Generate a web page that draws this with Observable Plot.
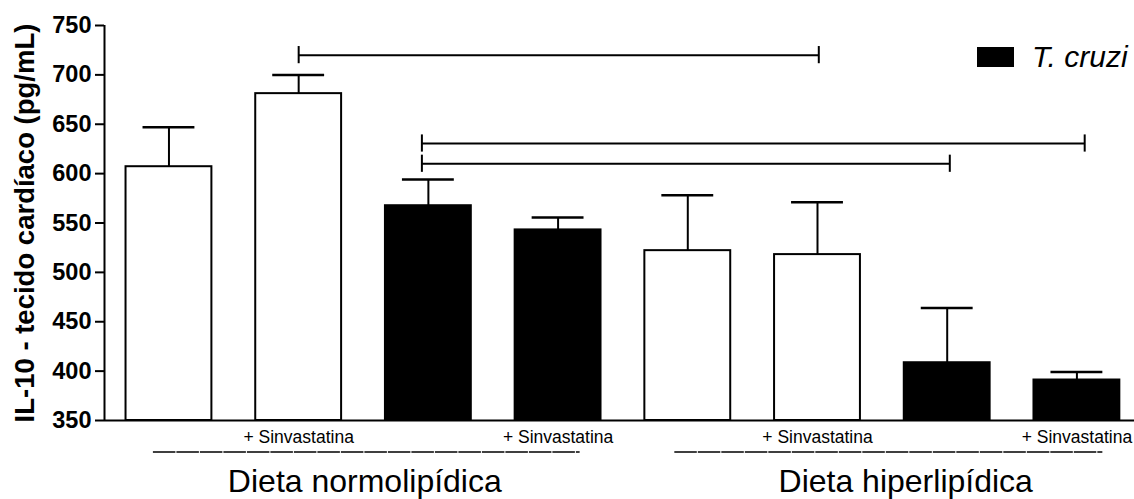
<!DOCTYPE html>
<html>
<head>
<meta charset="utf-8">
<script src="https://cdn.jsdelivr.net/npm/d3@7"></script>
<script src="https://cdn.jsdelivr.net/npm/@observablehq/plot@0.6"></script>
<style>
  body { margin: 0; background: #fff; }
  #wrap { position: relative; width: 1134px; height: 499px; font-family: "Liberation Sans", Arial, sans-serif; }
  #wrap svg { display: block; }
  #legend-swatch { position: absolute; left: 977px; top: 47px; width: 37px; height: 20px; background: #000; }
  #legend-text { position: absolute; left: 1032px; top: 41.5px; font-size: 30px; line-height: 30px; font-style: italic; color: #000; white-space: nowrap; }
</style>
</head>
<body>
<div id="wrap"></div>
<script>
// ---- data ----
const barIndex   = [0, 1, 2, 3, 4, 5, 6, 7];
const barValues  = [607, 681, 567.5, 543, 522, 518, 408.5, 391];
const barErrors  = [647, 700, 594, 555.5, 578, 571, 464, 399];
const infected   = [false, false, true, true, false, false, true, true];
const subLabels  = ["", "+ Sinvastatina", "", "+ Sinvastatina", "", "+ Sinvastatina", "", "+ Sinvastatina"];
const yTicks     = [350, 400, 450, 500, 550, 600, 650, 700, 750];
const groupNames = ["Dieta normolipídica", "Dieta hiperlipídica"];
const groupStart = [-0.12, 3.9];
const groupEnd   = [3.17, 7.2];
const groupCenter = [1.51, 5.68];
const bracketFrom = [1, 1.95, 1.95];
const bracketTo   = [5.01, 7.06, 6.02];
const bracketY    = [720, 630.5, 610];
const yLabel = "IL-10 - tecido cardíaco (pg/mL)";
const legendLabel = "T. cruzi";

// ---- tables ----
const bars = barIndex.map((i, k) => ({i, value: barValues[k], err: barErrors[k], infected: infected[k], sub: subLabels[k]}));
const groups = groupNames.map((name, k) => ({name, a: groupStart[k], b: groupEnd[k], c: groupCenter[k]}));
const brackets = bracketFrom.map((a, k) => ({a, b: bracketTo[k], y: bracketY[k]}));

const halfBar = 0.331, halfCap = 0.2, halfTick = 8.7;

const plot = Plot.plot({
  width: 1134,
  height: 499,
  marginLeft: 104,
  marginRight: 0,
  marginTop: 25,
  marginBottom: 79,
  style: {fontFamily: "'Liberation Sans', Arial, sans-serif", color: "#000", background: "#fff"},
  x: {type: "linear", domain: [-0.497, 7.444], axis: null},
  y: {domain: [350, 750], axis: null},
  marks: [
    // bars
    Plot.rect(bars.filter(d => !d.infected), {x1: d => d.i - halfBar, x2: d => d.i + halfBar, y1: () => 350, y2: "value", fill: "#fff", stroke: "#000", strokeWidth: 2}),
    Plot.rect(bars.filter(d => d.infected), {x1: d => d.i - halfBar, x2: d => d.i + halfBar, y1: () => 350, y2: "value", fill: "#000", stroke: "#000", strokeWidth: 2}),
    // error bars
    Plot.ruleX(bars, {x: "i", y1: "value", y2: "err", stroke: "#000", strokeWidth: 2}),
    Plot.ruleY(bars, {x1: d => d.i - halfCap, x2: d => d.i + halfCap, y: "err", stroke: "#000", strokeWidth: 2.5}),
    // significance brackets
    Plot.ruleY(brackets, {x1: "a", x2: "b", y: "y", stroke: "#000", strokeWidth: 2}),
    Plot.ruleX(brackets, {x: "a", y1: d => d.y - halfTick, y2: d => d.y + halfTick, stroke: "#000", strokeWidth: 2}),
    Plot.ruleX(brackets, {x: "b", y1: d => d.y - halfTick, y2: d => d.y + halfTick, stroke: "#000", strokeWidth: 2}),
    // axes
    Plot.axisY({ticks: yTicks, tickSize: 9, tickPadding: 4, fontSize: 23.5, fontWeight: "bold", strokeWidth: 2, label: null}),
    Plot.ruleX([-0.497], {stroke: "#000", strokeWidth: 2}),
    Plot.ruleY([350], {stroke: "#000", strokeWidth: 2}),
    // y label
    Plot.text([yLabel], {frameAnchor: "left", dx: -71, rotate: -90, lineAnchor: "bottom", textAnchor: "middle", fontSize: 27.5, fontWeight: "bold"}),
    // sub labels
    Plot.text(bars.filter(d => d.sub), {x: "i", text: "sub", frameAnchor: "bottom", dy: 22.4, lineAnchor: "bottom", fontSize: 17.5}),
    // group lines and labels
    Plot.ruleY(groups, {x1: "a", x2: "b", y: () => 350, dy: 31.4, stroke: "#000", strokeWidth: 1.5, strokeDasharray: "22.5 1"}),
    Plot.text(groups, {x: "c", text: "name", frameAnchor: "bottom", dy: 71.4, lineAnchor: "bottom", fontSize: 32})
  ]
});

const wrap = document.getElementById("wrap");
wrap.appendChild(plot);
const sw = document.createElement("div"); sw.id = "legend-swatch"; wrap.appendChild(sw);
const lt = document.createElement("div"); lt.id = "legend-text"; lt.textContent = legendLabel; wrap.appendChild(lt);
</script>
</body>
</html>
